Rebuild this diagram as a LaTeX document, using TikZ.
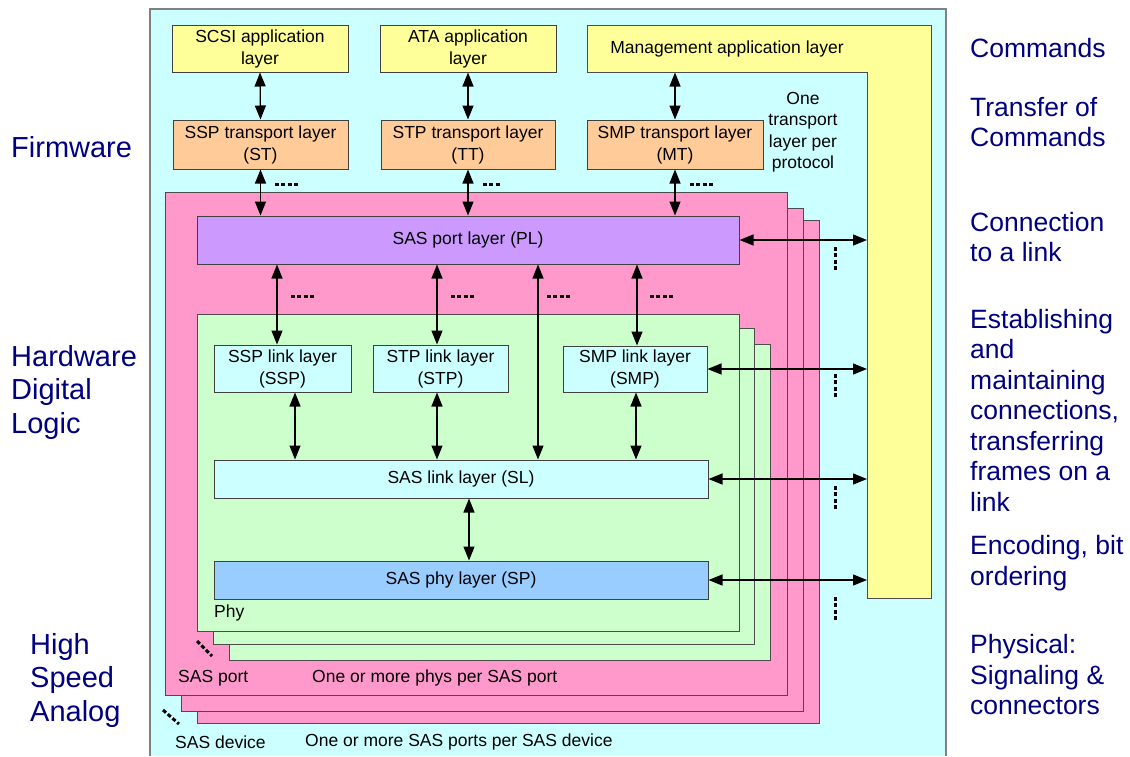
\documentclass[tikz,border=0pt]{standalone}
\usepackage{fontspec}
\setmainfont{Liberation Sans}
\usetikzlibrary{arrows.meta,positioning}
\definecolor{devcyan}{HTML}{CCFFFF}
\definecolor{appyel}{HTML}{FFFF99}
\definecolor{trorange}{HTML}{FFCC99}
\definecolor{portpink}{HTML}{FF99CC}
\definecolor{plpurple}{HTML}{CC99FF}
\definecolor{phygreen}{HTML}{CCFFCC}
\definecolor{spblue}{HTML}{99CCFF}
\definecolor{navy}{RGB}{0,0,128}
\tikzset{
  lay/.style={draw=black!75, line width=1pt, inner sep=0pt, align=center, font=\fontsize{17.5}{22}\selectfont},
  frame/.style={draw=black!70, line width=1pt},
  arr/.style={{Triangle[length=14pt,width=11pt]}-{Triangle[length=14pt,width=11pt]}, line width=1.3pt},
  dots/.style={line width=3pt, dash pattern=on 4pt off 2.3pt},
  side/.style={navy, anchor=west, align=left, inner sep=0pt, font=\fontsize{26.5}{30.5}\selectfont},
  note/.style={anchor=west, inner sep=0pt, font=\fontsize{17.5}{22}\selectfont}
}
\begin{document}
\begin{tikzpicture}[x=1pt,y=-1pt]
  \useasboundingbox (0,0) rectangle (1130,756);
  % SAS device background
  \fill[devcyan] (150,9) rectangle (946,756);
  \draw[black!50, line width=1.5pt] (150,756) -- (150,9) -- (946,9) -- (946,756);
  % management layer (L shape)
  \draw[frame, fill=appyel] (587,25) -- (931,25) -- (931,598) -- (867,598) -- (867,72) -- (587,72) -- cycle;
  \node[lay, draw=none, minimum width=280pt, minimum height=47pt] (mgmt) at (727,48.5) {Management application layer};
  \coordinate (mgin) at (867,0);
  % application and transport layers
  \foreach \n/\a/\b/\c/\d/\col/\t in {
      scsi/172/25/348/72/appyel/{SCSI application\\layer},
      ata/380/25/556/72/appyel/{ATA application\\layer},
      sst/173/120/348/169/trorange/{SSP transport layer\\(ST)},
      stt/381/120/555/169/trorange/{STP transport layer\\(TT)},
      smt/587/120/763/169/trorange/{SMP transport layer\\(MT)}}
    \node[lay, fill=\col, minimum width={(\c-\a)*1pt}, minimum height={(\d-\b)*1pt}] (\n) at ({(\a+\c)/2},{(\b+\d)/2}) {\t};
  \node[align=center, inner sep=0pt, font=\fontsize{17.5}{21.5}\selectfont] (onetr) at (803,132) {One\\transport\\layer per\\protocol};
  % SAS ports (back to front)
  \draw[frame, fill=portpink] (197,220) rectangle (819,723);
  \draw[frame, fill=portpink] (181,208) rectangle (803,711);
  \draw[frame, fill=portpink] (165,192) rectangle (787,695);
  \node[lay, fill=plpurple, minimum width=542pt, minimum height=48pt] (pl) at (468,240) {SAS port layer (PL)};
  % phys (back to front)
  \draw[frame, fill=phygreen] (229,344) rectangle (770,660);
  \draw[frame, fill=phygreen] (213,328) rectangle (754,644);
  \draw[frame, fill=phygreen] (197,314) rectangle (739,631);
  \foreach \n/\a/\b/\c/\d/\col/\t in {
      sspl/214/345/351/392/devcyan/{SSP link layer\\(SSP)},
      stpl/373/345/508/392/devcyan/{STP link layer\\(STP)},
      smpl/563/346/707/392/devcyan/{SMP link layer\\(SMP)},
      sl/214/460/708/498/devcyan/{SAS link layer (SL)},
      sp/214/561/708/599/spblue/{SAS phy layer (SP)}}
    \node[lay, fill=\col, minimum width={(\c-\a)*1pt}, minimum height={(\d-\b)*1pt}] (\n) at ({(\a+\c)/2},{(\b+\d)/2}) {\t};
  % connectors
  \draw[arr] (scsi.south) -- (sst.north);
  \draw[arr] (ata.south) -- (stt.north);
  \draw[arr] (smt.north) -- (smt.north |- mgmt.south);
  \foreach \n in {sst,stt,smt} \draw[arr] (\n.south) -- (\n.south |- pl.north);
  \foreach \n/\s in {sspl/-5.5,stpl/-3.5,smpl/2} \draw[arr] ([xshift=\s pt]\n.north) -- ([xshift=\s pt]\n.north |- pl.south);
  \foreach \n/\s in {sspl/12.5,stpl/-3.5,smpl/1} \draw[arr] ([xshift=\s pt]\n.south) -- ([xshift=\s pt]\n.south |- sl.north);
  \draw[arr] ([xshift=77pt]sl.north) -- ([xshift=77pt]sl.north |- pl.south);
  \draw[arr] ([xshift=8pt]sl.south) -- ([xshift=8pt]sl.south |- sp.north);
  \foreach \n in {pl,smpl,sl,sp} \draw[arr] (\n.east) -- (\n.east -| mgin);
  % "more of the same" marks
  \draw[dots] (275,184) -- ++(24,0);
  \draw[dots] (483,184) -- ++(17,0);
  \draw[dots] (690,184) -- ++(24,0);
  \foreach \x in {291,451,547,650} \draw[dots] (\x,296) -- ++(23,0);
  \foreach \y in {247,374,486,597} \draw[dots] (835,\y) -- ++(0,23);
  \draw[dots] (197,641) -- (212,656);
  \draw[dots] (163,710) -- (179,724);
  % labels inside
  \node[note] (phy) at (214,613) {Phy};
  \node[note] (sasport) at (178,678) {SAS port};
  \node[note] (perport) at (312,678) {One or more phys per SAS port};
  \node[note] (sasdev) at (175,742) {SAS device};
  \node[note] (perdev) at (305,742) {One or more SAS ports per SAS device};
  % left side
  \node[side, font=\fontsize{29}{33.5}\selectfont] (fw) at (11,147) {Firmware};
  \node[side, font=\fontsize{29}{33.5}\selectfont] (hw) at (11,392) {Hardware\\Digital\\Logic};
  \node[side, font=\fontsize{29}{33.5}\selectfont] (hs) at (30,680) {High\\Speed\\Analog};
  % right side
  \node[side] (r1) at (970,48) {Commands};
  \node[side] (r2) at (970,122) {Transfer of\\Commands};
  \node[side] (r3) at (970,237) {Connection\\to a link};
  \node[side] (r4) at (970,410) {Establishing\\and\\maintaining\\connections,\\transferring\\frames on a\\link};
  \node[side] (r5) at (970,563) {Encoding, bit\\ordering};
  \node[side] (r6) at (970,675) {Physical:\\Signaling \&\\connectors};
\end{tikzpicture}
\end{document}
